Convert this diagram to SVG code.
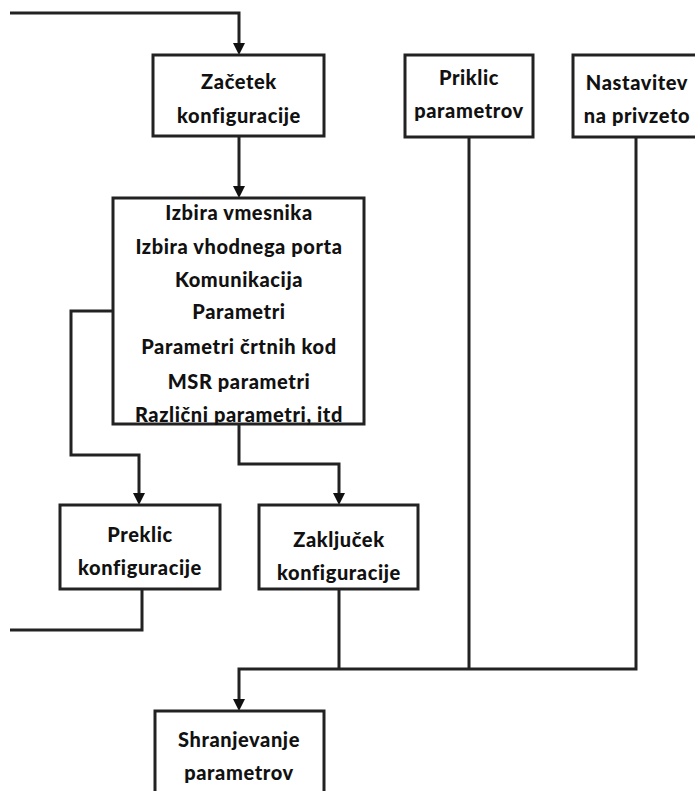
<svg xmlns="http://www.w3.org/2000/svg" width="695" height="791" viewBox="0 0 695 791">
<style>
.box{fill:#fff;stroke:#222;stroke-width:3}
.ln{fill:none;stroke:#222;stroke-width:3}
.ah{fill:#111}
text{font-family:Lato,"Open Sans",sans-serif;font-weight:900;font-size:20px;fill:#111;text-anchor:middle;letter-spacing:0.6px}
</style>
<g id="connectors">
<path class="ln" d="M10,13 H239 V44"/>
<path class="ah" d="M233,43 L245,43 L239,55 Z"/>
<path class="ln" d="M239,136 V187"/>
<path class="ah" d="M233,186 L245,186 L239,198 Z"/>
<path class="ln" d="M113,311 H71 V455 H139 V494"/>
<path class="ah" d="M133,493 L145,493 L139,505 Z"/>
<path class="ln" d="M239,424 V464 H339 V494"/>
<path class="ah" d="M333,493 L345,493 L339,505 Z"/>
<path class="ln" d="M142,589 V630 H10"/>
<path class="ln" d="M339,589 V669"/>
<path class="ln" d="M469,137 V669"/>
<path class="ln" d="M636,137 V669 H239 V700"/>
<path class="ah" d="M233,699 L245,699 L239,711 Z"/>
</g>
<g id="zacetek">
<rect class="box" x="153" y="55" width="171" height="81"/>
<text x="239" y="89">Začetek</text>
<text x="239" y="123">konfiguracije</text>
</g>
<g id="priklic">
<rect class="box" x="405" y="55" width="128" height="82"/>
<text x="469" y="85">Priklic</text>
<text x="469" y="118">parametrov</text>
</g>
<g id="nastavitev">
<rect class="box" x="573" y="55" width="130" height="82"/>
<text x="637" y="90">Nastavitev</text>
<text x="637" y="123">na privzeto</text>
</g>
<g id="parametri">
<rect class="box" x="113" y="198" width="251" height="226"/>
<text x="239" y="220">Izbira vmesnika</text>
<text x="239" y="254">Izbira vhodnega porta</text>
<text x="239" y="287">Komunikacija</text>
<text x="239" y="319">Parametri</text>
<text x="239" y="354">Parametri črtnih kod</text>
<text x="239" y="389">MSR parametri</text>
<text x="239" y="422">Različni parametri, itd</text>
</g>
<g id="preklic">
<rect class="box" x="60" y="505" width="160" height="84"/>
<text x="140" y="542">Preklic</text>
<text x="140" y="575">konfiguracije</text>
</g>
<g id="zakljucek">
<rect class="box" x="259" y="505" width="159" height="84"/>
<text x="339" y="547">Zaključek</text>
<text x="339" y="580">konfiguracije</text>
</g>
<g id="shranjevanje">
<rect class="box" x="155" y="711" width="169" height="100"/>
<text x="239" y="747">Shranjevanje</text>
<text x="239" y="780">parametrov</text>
</g>
</svg>
